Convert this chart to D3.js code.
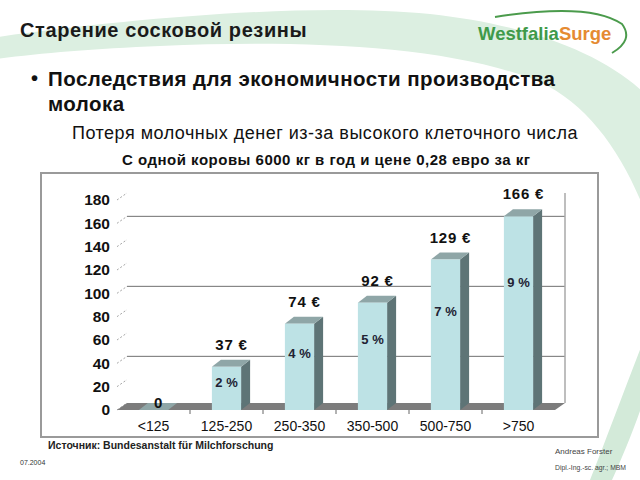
<!DOCTYPE html>
<html>
<head>
<meta charset="utf-8">
<script src="https://cdn.jsdelivr.net/npm/d3@7"></script>
<style>
  body { margin: 0; background: #fff; }
  svg { display: block; }
  text { font-family: "Liberation Sans", Arial, sans-serif; fill: #111; }
</style>
</head>
<body>
<svg id="slide" width="640" height="480"></svg>
<script>
// data
const categories = ["<125", "125-250", "250-350", "350-500", "500-750", ">750"];
const losses = [0, 37, 74, 92, 129, 166];
const shares = [null, 2, 4, 5, 7, 9];
const yTicks = [0, 20, 40, 60, 80, 100, 120, 140, 160, 180];
const gridValues = [40, 100, 160];

const svg = d3.select("#slide");

// background swoosh
svg.append("path")
  .attr("d", "M-10,38 C120,20 300,2 430,14 C540,26 620,60 660,110 L660,260 C640,180 600,110 540,82 C450,45 300,40 160,46 C90,49 30,54 -10,60 Z")
  .attr("fill", "#dcefe1");
svg.append("path")
  .attr("d", "M660,300 L660,340 C650,390 630,440 612,480 L590,480 C610,430 635,360 660,300 Z")
  .attr("fill", "#d3ead9");

// logo
const logo = svg.append("text").attr("x", 478).attr("y", 40)
  .style("font-size", "18.5px").style("font-weight", "bold");
logo.append("tspan").text("Westfalia").style("fill", "#3f9a4a");
logo.append("tspan").text("Surge").style("fill", "#e58b32");
svg.append("path")
  .attr("d", "M495,17 Q590,2 622,24 Q634,40 612,53")
  .attr("fill", "none").attr("stroke", "#4b9b4c").attr("stroke-width", 2);

// headings
svg.append("text").attr("x", 20).attr("y", 37)
  .style("font-size", "20px").style("font-weight", "bold").style("letter-spacing", "0.6px")
  .style("fill", "#1a1a1a")
  .text("Старение сосковой резины");
svg.append("text").attr("x", 31).attr("y", 85)
  .style("font-size", "20px").style("font-weight", "bold").text("•");
svg.append("text").attr("x", 48).attr("y", 86)
  .style("font-size", "20.5px").style("font-weight", "bold").style("letter-spacing", "0.45px")
  .text("Последствия для экономичности производства");
svg.append("text").attr("x", 48).attr("y", 111)
  .style("font-size", "20.5px").style("font-weight", "bold").style("letter-spacing", "0.45px")
  .text("молока");
svg.append("text").attr("x", 72).attr("y", 139)
  .style("font-size", "18px").style("letter-spacing", "0.5px")
  .text("Потеря молочных денег из-за высокого клеточного числа");
svg.append("text").attr("x", 122).attr("y", 165)
  .style("font-size", "15px").style("font-weight", "bold").style("letter-spacing", "0.5px")
  .text("С одной коровы 6000 кг в год и цене 0,28 евро за кг");

// chart frame
svg.append("rect").attr("x", 41).attr("y", 173).attr("width", 557).attr("height", 264)
  .attr("fill", "#fff").attr("stroke", "#9a9a9a").attr("stroke-width", 2);

const depth = { dx: 10, dy: -7 };
const bar3d = { dx: 9, dy: -7 };
const x = d3.scaleBand(categories, [117, 555]).paddingInner(0.6).paddingOuter(0.3);
const y = d3.scaleLinear([0, 180], [410, 200]);
const [x0, x1] = x.range();
const chart = svg.append("g");

// back wall grid
chart.selectAll("line.grid").data(gridValues).join("line")
  .attr("class", "grid")
  .attr("x1", x0 + depth.dx).attr("x2", x1 + depth.dx)
  .attr("y1", d => y(d) + depth.dy).attr("y2", d => y(d) + depth.dy)
  .attr("stroke", "#6f6f6f").attr("stroke-width", 1);
chart.append("line")
  .attr("x1", x1 + depth.dx).attr("x2", x1 + depth.dx)
  .attr("y1", y(180) + depth.dy).attr("y2", y(0) + depth.dy)
  .attr("stroke", "#a8a8a8").attr("stroke-width", 1.5);

// diagonal tick dashes
chart.selectAll("line.tick3d").data(yTicks).join("line")
  .attr("class", "tick3d")
  .attr("x1", x0).attr("y1", d => y(d))
  .attr("x2", x0 + depth.dx).attr("y2", d => y(d) + depth.dy)
  .attr("stroke", "#a5a5a5").attr("stroke-dasharray", "2,2");

// y axis labels
const yAxis = d3.axisLeft(y).tickValues(yTicks).tickSize(0).tickPadding(0);
const yg = chart.append("g").attr("transform", `translate(${x0 - 7},0)`).call(yAxis);
yg.select(".domain").remove();
yg.selectAll("text")
  .style("font-size", "15.5px").style("font-weight", "bold")
  .style("font-family", "'Liberation Sans', Arial, sans-serif").attr("fill", "#111");

// floor
chart.append("path")
  .attr("d", `M${x0},${y(0)} L${x1},${y(0)} L${x1 + depth.dx},${y(0) + depth.dy} L${x0 + depth.dx},${y(0) + depth.dy} Z`)
  .attr("fill", "#7c7c7c");

// x ticks between categories
chart.selectAll("line.xtick").data(categories.slice(1)).join("line")
  .attr("class", "xtick")
  .attr("x1", d => x(d) - x.step() * x.paddingInner() / 2)
  .attr("x2", d => x(d) - x.step() * x.paddingInner() / 2)
  .attr("y1", y(0)).attr("y2", y(0) + 4)
  .attr("stroke", "#666");

// x axis labels
const xAxis = d3.axisBottom(x).tickSize(0).tickPadding(0);
const xg = chart.append("g").attr("transform", `translate(0,${y(0) + 21})`).call(xAxis);
xg.select(".domain").remove();
xg.selectAll("text")
  .attr("dy", "0")
  .style("font-size", "14px")
  .style("font-family", "'Liberation Sans', Arial, sans-serif").attr("fill", "#111");

// bars
const rows = categories.map((c, i) => ({ c, v: losses[i], p: shares[i] }));
const bars = chart.selectAll("g.bar").data(rows).join("g").attr("class", "bar");
const bw = x.bandwidth();
bars.append("path")
  .attr("d", d => {
    const l = x(d.c) + bw, t = y(d.v), b = y(0);
    return `M${l},${t} L${l + bar3d.dx},${t + bar3d.dy} L${l + bar3d.dx},${b + bar3d.dy} L${l},${b} Z`;
  })
  .attr("fill", "#5e7476");
bars.append("path")
  .attr("d", d => {
    const l = x(d.c), t = y(d.v);
    return `M${l},${t} L${l + bw},${t} L${l + bw + bar3d.dx},${t + bar3d.dy} L${l + bar3d.dx},${t + bar3d.dy} Z`;
  })
  .attr("fill", "#8fa6a7");
bars.append("rect")
  .attr("x", d => x(d.c)).attr("y", d => y(d.v))
  .attr("width", bw).attr("height", d => y(0) - y(d.v))
  .attr("fill", "#bde2e5");

// value labels
bars.append("text")
  .attr("x", d => x(d.c) + bw / 2 + 5)
  .attr("y", d => d.v === 0 ? y(0) - 2 : y(d.v) - 17)
  .attr("text-anchor", "middle")
  .style("font-size", "15px").style("font-weight", "bold").style("letter-spacing", "0.8px")
  .text(d => d.v === 0 ? "0" : `${d.v} €`);

// share labels inside bars
bars.filter(d => d.p != null).append("text")
  .attr("x", d => x(d.c) + bw / 2)
  .attr("y", d => y(d.v * 0.66) + 5)
  .attr("text-anchor", "middle")
  .style("font-size", "13px").style("font-weight", "bold").style("fill", "#223")
  .text(d => `${d.p} %`);

// footer
svg.append("text").attr("x", 48).attr("y", 449)
  .style("font-size", "10.5px").style("font-weight", "bold").style("fill", "#222")
  .text("Источник: Bundesanstalt für Milchforschung");
svg.append("text").attr("x", 20).attr("y", 465)
  .style("font-size", "7px").style("fill", "#333").text("07.2004");
svg.append("text").attr("x", 555).attr("y", 454)
  .style("font-size", "8px").style("fill", "#444").text("Andreas Forster");
svg.append("text").attr("x", 555).attr("y", 470)
  .style("font-size", "6.8px").style("fill", "#444").text("Dipl.-Ing.-sc. agr.; MBM");
</script>
</body>
</html>
